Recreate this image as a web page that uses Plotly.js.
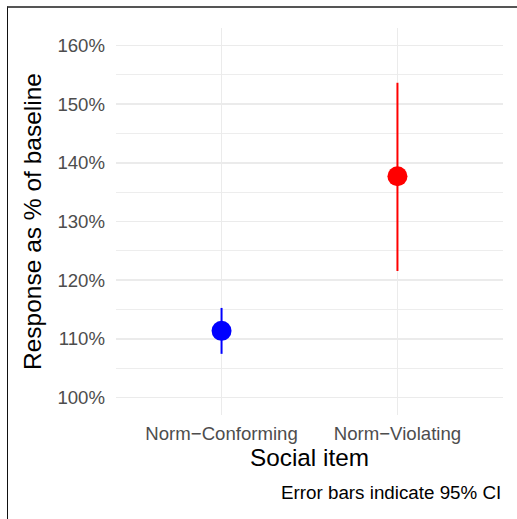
<!DOCTYPE html>
<html>
<head>
<meta charset="utf-8">
<script src="https://cdn.plot.ly/plotly-3.0.1.min.js"></script>
<style>
  html, body { margin: 0; padding: 0; background: #fff; }
  #wrap { position: relative; width: 517px; height: 519px; overflow: hidden; }
  #chart { position: absolute; left: 0; top: 0; width: 517px; height: 519px; }
  #frame { position: absolute; left: 7px; top: 6px; width: 600px; height: 600px;
           border-top: 2px solid #555; border-left: 1.5px solid #111; pointer-events: none; }
</style>
</head>
<body>
<div id="wrap">
  <div id="chart"></div>
  <div id="frame"></div>
</div>
<script>
// Data (percent of baseline)
const categories = ["Norm\u2212Conforming", "Norm\u2212Violating"];
const means = [111.35, 137.72];
const upperCI = [115.26, 153.66];
const lowerCI = [107.43, 121.56];
const colors = ["#0000FF", "#FF0000"];
const yTickVals = [100, 110, 120, 130, 140, 150, 160];
const yTickText = ["100%", "110%", "120%", "130%", "140%", "150%", "160%"];

const traces = categories.map((c, i) => ({
  type: "scatter",
  mode: "markers",
  x: [c],
  y: [means[i]],
  marker: { color: colors[i], size: 20, line: { width: 0 } },
  error_y: {
    type: "data",
    symmetric: false,
    array: [upperCI[i] - means[i]],
    arrayminus: [means[i] - lowerCI[i]],
    color: colors[i],
    thickness: 2,
    width: 0
  },
  showlegend: false,
  hoverinfo: "skip"
}));

const font = "Liberation Sans, Arial, Helvetica, sans-serif";

const layout = {
  width: 517,
  height: 519,
  margin: { l: 116, r: 14, t: 28, b: 104 },
  paper_bgcolor: "#ffffff",
  plot_bgcolor: "#ffffff",
  font: { family: font },
  showlegend: false,
  xaxis: {
    type: "category",
    categoryorder: "array",
    categoryarray: categories,
    range: [-0.6, 1.6],
    showgrid: true,
    gridcolor: "#EBEBEB",
    gridwidth: 1.8,
    zeroline: false,
    showline: false,
    ticks: "",
    tickfont: { size: 18.6, color: "#4D4D4D", family: font },
    ticklabelstandoff: 5,
    title: { text: "Social item", font: { size: 24.3, color: "#000000", family: font }, standoff: 6 }
  },
  yaxis: {
    range: [97, 163],
    tickmode: "array",
    tickvals: yTickVals,
    ticktext: yTickText,
    showgrid: true,
    gridcolor: "#EBEBEB",
    gridwidth: 1.8,
    minor: { dtick: 5, tick0: 0, showgrid: true, gridcolor: "#EDEDED", gridwidth: 1, ticks: "" },
    zeroline: false,
    showline: false,
    ticks: "",
    tickfont: { size: 18.6, color: "#4D4D4D", family: font },
    ticklabelstandoff: 10,
    title: { text: "Response as % of baseline", font: { size: 24.5, color: "#000000", family: font }, standoff: 8 }
  },
  annotations: [{
    text: "Error bars indicate 95% CI",
    xref: "paper", yref: "paper",
    x: 1, xanchor: "right",
    y: (415 - 493) / 387, yanchor: "middle",
    showarrow: false,
    font: { size: 18.8, color: "#000000", family: font }
  }]
};

Plotly.newPlot("chart", traces, layout, { staticPlot: true, displayModeBar: false });
</script>
</body>
</html>
